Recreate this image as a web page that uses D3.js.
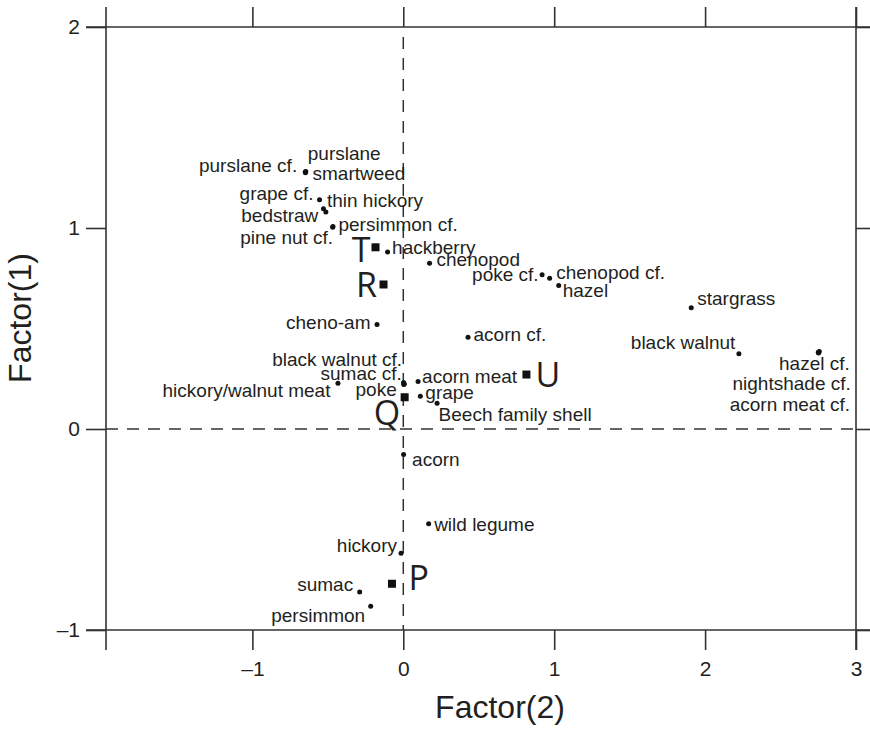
<!DOCTYPE html>
<html>
<head>
<meta charset="utf-8">
<script src="https://cdn.jsdelivr.net/npm/d3@7"></script>
<style>
  body { margin: 0; background: #fff; }
  svg { display: block; }
  text { font-family: "Liberation Sans", Arial, sans-serif; fill: #231f20; }
</style>
</head>
<body>
<div id="chart"></div>
<script>
// Correspondence plot: taxa and sample groups on Factor(2) x Factor(1)

const taxa = ["purslane cf.", "purslane", "smartweed", "grape cf.", "thin hickory", "bedstraw",
  "persimmon cf.", "pine nut cf.", "hackberry", "chenopod", "poke cf.", "chenopod cf.", "hazel",
  "stargrass", "acorn cf.", "black walnut", "hazel cf.", "nightshade cf.", "acorn meat cf.",
  "cheno-am", "black walnut cf.", "sumac cf.", "poke", "hickory/walnut meat", "acorn meat",
  "grape", "Beech family shell", "acorn", "wild legume", "hickory", "sumac", "persimmon"];
const taxaF2 = [-0.650, -0.646, -0.648, -0.555, -0.529, -0.513,
  -0.466, -0.468, -0.104, 0.174, 0.920, 0.970, 1.030,
  1.908, 0.429, 2.224, 2.750, 2.757, 2.752,
  -0.174, 0.002, 0.007, 0.003, -0.433, 0.098,
  0.113, 0.224, 0.002, 0.168, -0.015, -0.289, -0.216];
const taxaF1 = [1.278, 1.281, 1.275, 1.140, 1.096, 1.079,
  1.007, 1.004, 0.880, 0.825, 0.767, 0.750, 0.714,
  0.603, 0.457, 0.374, 0.382, 0.385, 0.378,
  0.520, 0.231, 0.224, 0.221, 0.228, 0.236,
  0.163, 0.128, -0.127, -0.472, -0.618, -0.811, -0.882];

const groups = ["T", "R", "Q", "U", "P"];
const groupF2 = [-0.184, -0.131, 0.009, 0.816, -0.075];
const groupF1 = [0.904, 0.719, 0.158, 0.271, -0.770];

const xTicks = [-1, 0, 1, 2, 3];
const yTicks = [-1, 0, 1, 2];

// label placement (pixels from the mark): [dx, dy, anchor]
const taxaLabelPos = {
  "purslane cf.": [-8, 0, "end"], "purslane": [2, -12, "start"], "smartweed": [7, 7, "start"],
  "grape cf.": [-6, 0, "end"], "thin hickory": [3.5, -1.5, "start"], "bedstraw": [-7.5, 10, "end"],
  "persimmon cf.": [5.5, 4, "start"], "pine nut cf.": [0.5, 17, "end"], "hackberry": [4.5, 1.5, "start"],
  "chenopod": [7, 2.5, "start"], "poke cf.": [-3.5, 6, "end"], "chenopod cf.": [6.5, 0.5, "start"],
  "hazel": [4, 11.5, "start"], "stargrass": [6, -2.5, "start"], "acorn cf.": [5.5, 3.5, "start"],
  "black walnut": [-3.5, -4.5, "end"], "hazel cf.": [31.5, 18, "end"],
  "nightshade cf.": [31.5, 38, "end"], "acorn meat cf.": [31.5, 58, "end"],
  "cheno-am": [-6.5, 4.5, "end"], "black walnut cf.": [-1.5, -17, "end"], "sumac cf.": [-2.5, -3.5, "end"],
  "poke": [-7, 11, "end"], "hickory/walnut meat": [-7.5, 14, "end"], "acorn meat": [4, 1.5, "start"],
  "grape": [5, 2.5, "start"], "Beech family shell": [1.5, 17.5, "start"], "acorn": [8.5, 11, "start"],
  "wild legume": [5.5, 7, "start"], "hickory": [-4, -1.5, "end"], "sumac": [-6.5, -1.5, "end"],
  "persimmon": [-5.5, 15.5, "end"]
};
const groupLabelPos = {
  "T": [-5, 15, "end"], "R": [-6.5, 12.5, "end"], "Q": [-4.5, 28, "end"],
  "U": [9, 12.5, "start"], "P": [16.5, 6.5, "start"]
};

const W = 870, H = 729;
const margin = { top: 27, right: 14, bottom: 99, left: 106 };
const width = W - margin.left - margin.right;
const height = H - margin.top - margin.bottom;
const ink = "#333";

const svg = d3.select("#chart").append("svg")
  .attr("width", W).attr("height", H)
  .append("g")
  .attr("transform", `translate(${margin.left},${margin.top})`);

const x = d3.scaleLinear().domain([-1.97, 3]).range([0, width]);
const y = d3.scaleLinear().domain([-1, 2]).range([height, 0]);

const fmt = d => d < 0 ? "\u2013" + Math.abs(d) : String(d);

// axes on all four sides, ticks pointing out
function styleAxis(g) {
  g.select(".domain").remove();
  g.selectAll(".tick line").attr("stroke", ink).attr("stroke-width", 1.6);
  g.selectAll(".tick text").style("font-size", "21px").attr("fill", "#231f20");
}

svg.append("g").attr("transform", `translate(0,${height})`)
  .call(d3.axisBottom(x).tickValues(xTicks).tickSize(20).tickPadding(11).tickFormat(fmt))
  .call(styleAxis);
svg.append("g")
  .call(d3.axisTop(x).tickValues(xTicks).tickSize(20).tickFormat(""))
  .call(styleAxis);
svg.append("g")
  .call(d3.axisLeft(y).tickValues(yTicks).tickSize(20).tickPadding(6).tickFormat(fmt))
  .call(styleAxis);
svg.append("g").attr("transform", `translate(${width},0)`)
  .call(d3.axisRight(y).tickValues(yTicks).tickSize(20).tickFormat(""))
  .call(styleAxis);

// frame lines, running past the corners
const ext = 20;
const frame = [
  [x.range()[0] - ext, 0, x.range()[1] + ext, 0],
  [x.range()[0] - ext, height, x.range()[1] + ext, height],
  [0, -ext, 0, height + ext],
  [width, -ext, width, height + ext]
];
svg.selectAll("line.frame").data(frame).enter().append("line")
  .attr("class", "frame")
  .attr("x1", d => d[0]).attr("y1", d => d[1])
  .attr("x2", d => d[2]).attr("y2", d => d[3])
  .attr("stroke", ink).attr("stroke-width", 1.6);

// zero reference lines
svg.append("line")
  .attr("x1", 0).attr("x2", width).attr("y1", y(0)).attr("y2", y(0))
  .attr("stroke", ink).attr("stroke-width", 1.5).attr("stroke-dasharray", "12 9");
svg.append("line")
  .attr("x1", x(0)).attr("x2", x(0)).attr("y1", 10).attr("y2", height)
  .attr("stroke", ink).attr("stroke-width", 1.5).attr("stroke-dasharray", "12 9");

// taxa
const taxaData = taxa.map((name, i) => ({ name, f2: taxaF2[i], f1: taxaF1[i] }));
svg.selectAll("circle.taxon").data(taxaData).enter().append("circle")
  .attr("class", "taxon")
  .attr("cx", d => x(d.f2)).attr("cy", d => y(d.f1))
  .attr("r", 2.5).attr("fill", "#111");
svg.selectAll("text.taxon").data(taxaData).enter().append("text")
  .attr("class", "taxon")
  .attr("x", d => x(d.f2) + taxaLabelPos[d.name][0])
  .attr("y", d => y(d.f1) + taxaLabelPos[d.name][1])
  .attr("text-anchor", d => taxaLabelPos[d.name][2])
  .style("font-size", "19px")
  .text(d => d.name);

// sample groups
const groupData = groups.map((name, i) => ({ name, f2: groupF2[i], f1: groupF1[i] }));
svg.selectAll("rect.group").data(groupData).enter().append("rect")
  .attr("class", "group")
  .attr("x", d => x(d.f2) - 4).attr("y", d => y(d.f1) - 4)
  .attr("width", 8).attr("height", 8).attr("fill", "#111");
svg.selectAll("text.group").data(groupData).enter().append("text")
  .attr("class", "group")
  .attr("x", d => x(d.f2) + groupLabelPos[d.name][0])
  .attr("y", d => y(d.f1) + groupLabelPos[d.name][1])
  .attr("text-anchor", d => groupLabelPos[d.name][2])
  .style("font-family", "'Open Sans', sans-serif")
  .style("font-size", "34px")
  .text(d => d.name);

// axis titles
svg.append("text")
  .attr("x", 500 - margin.left).attr("y", 718 - margin.top)
  .attr("text-anchor", "middle")
  .style("font-size", "32px")
  .text("Factor(2)");
svg.append("text")
  .attr("transform", "rotate(-90)")
  .attr("x", -(318 - margin.top)).attr("y", 31 - margin.left)
  .attr("text-anchor", "middle")
  .style("font-size", "32px")
  .text("Factor(1)");
</script>
</body>
</html>
